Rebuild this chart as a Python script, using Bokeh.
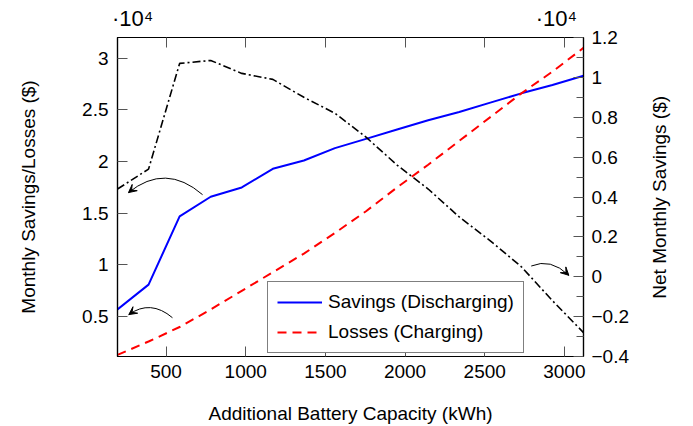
import math

from bokeh.plotting import figure
from bokeh.models import (Range1d, LinearAxis, FixedTicker, Legend, LegendItem,
                          Arrow, VeeHead)
from bokeh.embed import file_html
from bokeh.resources import INLINE

# Additional battery capacity (kWh)
capacity = [195, 390, 585, 780, 975, 1170, 1365, 1560, 1755, 1950,
            2145, 2340, 2535, 2730, 2925, 3120]
# Monthly savings from discharging (x 10^4 $)
savings = [0.57, 0.81, 1.47, 1.66, 1.75, 1.93, 2.01, 2.13, 2.22, 2.31,
           2.40, 2.48, 2.57, 2.66, 2.74, 2.83]
# Monthly losses from charging (x 10^4 $)
losses = [0.13, 0.26, 0.40, 0.57, 0.75, 0.93, 1.11, 1.31, 1.52, 1.75,
          1.97, 2.20, 2.43, 2.66, 2.87, 3.10]
# Net monthly savings (x 10^4 $), right axis
net = [0.44, 0.54, 1.07, 1.085, 1.02, 0.99, 0.90, 0.82, 0.70, 0.56,
       0.44, 0.30, 0.18, 0.05, -0.12, -0.28]

x_ticks = [500, 1000, 1500, 2000, 2500, 3000]
left_ticks = [0.5, 1, 1.5, 2, 2.5, 3]
left_labels = ["0.5", "1", "1.5", "2", "2.5", "3"]
right_ticks = [-0.4, -0.2, 0, 0.2, 0.4, 0.6, 0.8, 1.0, 1.2]
right_labels = ["\u22120.4", "\u22120.2", "0", "0.2", "0.4", "0.6", "0.8", "1", "1.2"]
right_minor = [-0.3, -0.1, 0.1, 0.3, 0.5, 0.7, 0.9, 1.1]
right_title = "Net Monthly Savings ($)"
right_title_at = -0.11   # where the upward-reading title starts

# scale multiplier shown above the left and right value axes
multiplier = "\u00b710\u2074"
multiplier_at = [290, 2950]

# curved pointer arrows: (start, control, end) in data units of the left axis
pointers = [
    ((729, 1.68), (496, 1.99), (264, 1.70)),
    ((540, 0.49), (402, 0.67), (266, 0.52)),
    ((2792, 0.99), (2913, 1.07), (3028, 0.90)),
]

FONT = "Liberation Sans"
FS = "19px"

p = figure(width=693, height=426, output_backend="svg", toolbar_location=None,
           x_range=Range1d(195, 3120), y_range=Range1d(0.115, 3.2),
           min_border_left=117, min_border_right=110,
           min_border_top=37, min_border_bottom=69)
p.extra_y_ranges = {"net": Range1d(-0.4, 1.2)}
p.xgrid.visible = False
p.ygrid.visible = False
p.outline_line_color = "black"
p.outline_line_width = 1.2
p.background_fill_color = "white"
p.border_fill_color = "white"


def style(ax, tick_in=10):
    ax.axis_line_color = "black"
    ax.axis_line_width = 1.2
    ax.major_tick_in = tick_in
    ax.major_tick_out = 0
    ax.minor_tick_in = 7
    ax.minor_tick_out = 0
    ax.major_tick_line_color = "#555555"
    ax.minor_tick_line_color = "#555555"
    ax.major_label_text_font = FONT
    ax.major_label_text_font_size = FS
    ax.major_label_text_color = "black"
    ax.axis_label_text_font = FONT
    ax.axis_label_text_font_size = FS
    ax.axis_label_text_font_style = "normal"
    ax.axis_label_text_color = "black"


xb = p.xaxis[0]
style(xb)
xb.ticker = FixedTicker(ticks=x_ticks, minor_ticks=[])
xb.axis_label = "Additional Battery Capacity (kWh)"
xb.major_label_standoff = 8
xb.axis_label_standoff = 22

yl = p.yaxis[0]
style(yl)
yl.ticker = FixedTicker(ticks=left_ticks, minor_ticks=[])
yl.major_label_overrides = dict(zip(left_ticks, left_labels))
yl.axis_label = "Monthly Savings/Losses ($)"
yl.major_label_standoff = 9
yl.axis_label_standoff = 40

yr = LinearAxis(y_range_name="net")
style(yr)
yr.ticker = FixedTicker(ticks=right_ticks, minor_ticks=right_minor)
yr.major_label_overrides = dict(zip(right_ticks, right_labels))
yr.major_label_standoff = 8
p.add_layout(yr, "right")

# outer right axis carrying only the upward-reading title of the net axis
yr_title = LinearAxis(y_range_name="net")
style(yr_title, tick_in=0)
yr_title.axis_line_color = None
yr_title.major_tick_line_color = None
yr_title.minor_tick_line_color = None
yr_title.ticker = FixedTicker(ticks=[right_title_at], minor_ticks=[])
yr_title.major_label_overrides = {right_title_at: right_title}
yr_title.major_label_orientation = math.pi / 2
yr_title.major_label_standoff = 27
p.add_layout(yr_title, "right")

# top frame axis: inward ticks at the x ticks, multiplier text as its labels
xt = LinearAxis()
style(xt, tick_in=0)
xt.minor_tick_in = 10
xt.ticker = FixedTicker(ticks=multiplier_at, minor_ticks=x_ticks)
xt.major_label_overrides = {t: multiplier for t in multiplier_at}
xt.major_label_text_font_size = "22px"
xt.major_label_standoff = 7
p.add_layout(xt, "above")

r_save = p.line(capacity, savings, line_color="#0000ff", line_width=2)
r_loss = p.line(capacity, losses, line_color="#ff0000", line_width=2,
                line_dash="9 6")
p.line(capacity, net, y_range_name="net", line_color="black", line_width=1.6,
       line_dash="8 3 2 3")

for (s, c, e) in pointers:
    p.quadratic(x0=[s[0]], y0=[s[1]], x1=[e[0]], y1=[e[1]], cx=[c[0]], cy=[c[1]],
                line_color="black", line_width=1)
    hx = e[0] + 0.06 * (c[0] - e[0])
    hy = e[1] + 0.06 * (c[1] - e[1])
    p.add_layout(Arrow(end=VeeHead(size=8, fill_color="black", line_color="black",
                                   line_width=1),
                       x_start=hx, y_start=hy, x_end=e[0], y_end=e[1],
                       line_color="black", line_width=1))

legend = Legend(items=[LegendItem(label="Savings (Discharging)", renderers=[r_save]),
                       LegendItem(label="Losses (Charging)", renderers=[r_loss])],
                location=(150, 3), margin=0, padding=9, spacing=8,
                glyph_width=45, glyph_height=20, label_height=20,
                label_standoff=6, border_line_color="black",
                border_line_width=1.3, background_fill_color="white",
                background_fill_alpha=1.0, label_text_font=FONT,
                label_text_font_size=FS, label_text_color="black")
p.add_layout(legend)

open("out.html", "w").write(file_html(p, INLINE))
